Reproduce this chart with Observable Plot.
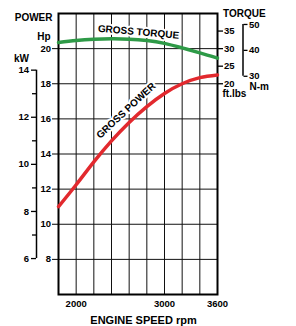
<!DOCTYPE html>
<html>
<head>
<meta charset="utf-8">
<script src="https://cdn.jsdelivr.net/npm/d3@7"></script>
<script src="https://cdn.jsdelivr.net/npm/@observablehq/plot@0.6"></script>
<style>
  html, body { margin: 0; padding: 0; background: #fff; }
</style>
</head>
<body>
<div id="chart"></div>
<script>
// Data
const rpm = [1800, 2000, 2200, 2400, 2600, 2800, 3000, 3200, 3400, 3600];
const powerHp = [11.0, 12.25, 13.55, 14.75, 15.8, 16.7, 17.45, 18.0, 18.35, 18.5];
const torqueFtLbs = [31.75, 32.3, 32.65, 32.8, 32.7, 32.3, 31.5, 30.2, 28.8, 27.3];

const rpmTicks = [2000, 3000, 3600];
const rpmGrid = [2000, 2200, 2400, 2600, 2800, 3000, 3200, 3400];
const hpTicks = [8, 10, 12, 14, 16, 18, 20];
const kwTicks = [6, 8, 10, 12, 14];
const kwMinorTicks = [7, 9, 11, 13];
const ftlbsTicks = [20, 25, 30, 35];
const nmTicks = [30, 40, 50];

// unit conversions onto the Hp (y) scale
const kwToHp = kw => kw / 0.7457;
const ftlbsToHp = t => 20 + (t - 30) / 5;
const nmToHp = nm => ftlbsToHp(nm / 1.3558);

const power = rpm.map((r, i) => ({rpm: r, hp: powerHp[i]}));
const torque = rpm.map((r, i) => ({rpm: r, t: torqueFtLbs[i]}));

const font = "'Liberation Sans', Arial, Helvetica, sans-serif";
const fs = 9.5;
const red = "#e2292e";
const green = "#2e9a47";

const plot = Plot.plot({
  width: 296,
  height: 326,
  marginTop: 13,
  marginLeft: 58,
  marginRight: 79,
  marginBottom: 32,
  style: {fontFamily: font, fontWeight: "bold", fontSize: fs + "px", color: "black", background: "white"},
  x: {domain: [1800, 3600], axis: null},
  y: {domain: [6, 22], axis: null},
  marks: [
    // grid
    Plot.gridX(rpmGrid, {stroke: "#111", strokeOpacity: 1, strokeWidth: 1}),
    Plot.gridY(hpTicks, {stroke: "#111", strokeOpacity: 1, strokeWidth: 1}),
    // Hp axis (left)
    Plot.axisY(hpTicks, {anchor: "left", tickSize: 6, tickPadding: 1.5, fontSize: fs, tickFormat: d => String(d), strokeWidth: 1}),
    // kW axis (left bracket)
    Plot.ruleX([{x: 1800, y1: kwToHp(6), y2: kwToHp(14)}], {x: "x", y1: "y1", y2: "y2", dx: -22, stroke: "black", strokeWidth: 1.5}),
    Plot.axisY(kwTicks.map(kwToHp), {anchor: "left", dx: -22, tickSize: 5, tickPadding: 2.5, fontSize: fs, tickFormat: (d, i) => String(kwTicks[i]), strokeWidth: 1.3}),
    Plot.axisY(kwMinorTicks.map(kwToHp), {anchor: "left", dx: -22, tickSize: 4, tickFormat: () => "", strokeWidth: 1.3}),
    // torque ft.lbs axis (right)
    Plot.axisY(ftlbsTicks.map(ftlbsToHp), {anchor: "right", tickSize: 5, tickPadding: 1.5, fontSize: fs, tickFormat: (d, i) => String(ftlbsTicks[i]), strokeWidth: 1.3}),
    // N-m axis (right bracket)
    Plot.ruleX([{x: 3600, y1: nmToHp(30), y2: nmToHp(50)}], {x: "x", y1: "y1", y2: "y2", dx: 25.5, stroke: "black", strokeWidth: 1.5}),
    Plot.axisY(nmTicks.map(nmToHp), {anchor: "right", dx: 25.5, tickSize: 4, tickPadding: 2, fontSize: fs, tickFormat: (d, i) => String(nmTicks[i]), strokeWidth: 1.3}),
    // x axis
    Plot.axisX(rpmTicks, {anchor: "bottom", tickSize: 0, tickPadding: 6, fontSize: fs, tickFormat: d => String(d)}),
    // frame
    Plot.frame({stroke: "black", strokeWidth: 2}),
    // in-plot labels with white halo
    Plot.text(["GROSS TORQUE"], {frameAnchor: "top-left", dx: 80, dy: 18.5, rotate: 5, textAnchor: "middle", lineAnchor: "middle", fontSize: 10, fill: "black", stroke: "white", strokeWidth: 4, paintOrder: "stroke"}),
    Plot.text(["GROSS POWER"], {frameAnchor: "top-left", dx: 67.5, dy: 97, rotate: -43, textAnchor: "middle", lineAnchor: "middle", fontSize: 10, fill: "black", stroke: "white", strokeWidth: 4, paintOrder: "stroke"}),
    // curves
    Plot.line(torque, {x: "rpm", y: d => ftlbsToHp(d.t), stroke: green, strokeWidth: 3.5, curve: "natural"}),
    Plot.line(power, {x: "rpm", y: "hp", stroke: red, strokeWidth: 3.5, curve: "natural"}),
    // outer axis titles
    Plot.text(["POWER"], {frameAnchor: "top-left", dx: -6, dy: 7, textAnchor: "end", lineAnchor: "bottom", fontSize: 10}),
    Plot.text(["Hp"], {frameAnchor: "top-left", dx: -8, dy: 26.5, textAnchor: "end", lineAnchor: "bottom", fontSize: 10}),
    Plot.text(["kW"], {frameAnchor: "top-left", dx: -37, dy: 48.7, textAnchor: "middle", lineAnchor: "bottom", fontSize: 10}),
    Plot.text(["TORQUE"], {frameAnchor: "top-right", dx: 5.5, dy: 3.5, textAnchor: "start", lineAnchor: "bottom", fontSize: 10}),
    Plot.text(["ft.lbs"], {frameAnchor: "top-right", dx: 5, dy: 83.5, textAnchor: "start", lineAnchor: "bottom", fontSize: 10}),
    Plot.text(["N-m"], {frameAnchor: "top-right", dx: 32, dy: 76, textAnchor: "start", lineAnchor: "bottom", fontSize: 10}),
    Plot.text(["ENGINE SPEED rpm"], {frameAnchor: "bottom", dx: 5.5, dy: 29.5, textAnchor: "middle", lineAnchor: "bottom", fontSize: 11})
  ]
});
document.getElementById("chart").appendChild(plot);
</script>
</body>
</html>
